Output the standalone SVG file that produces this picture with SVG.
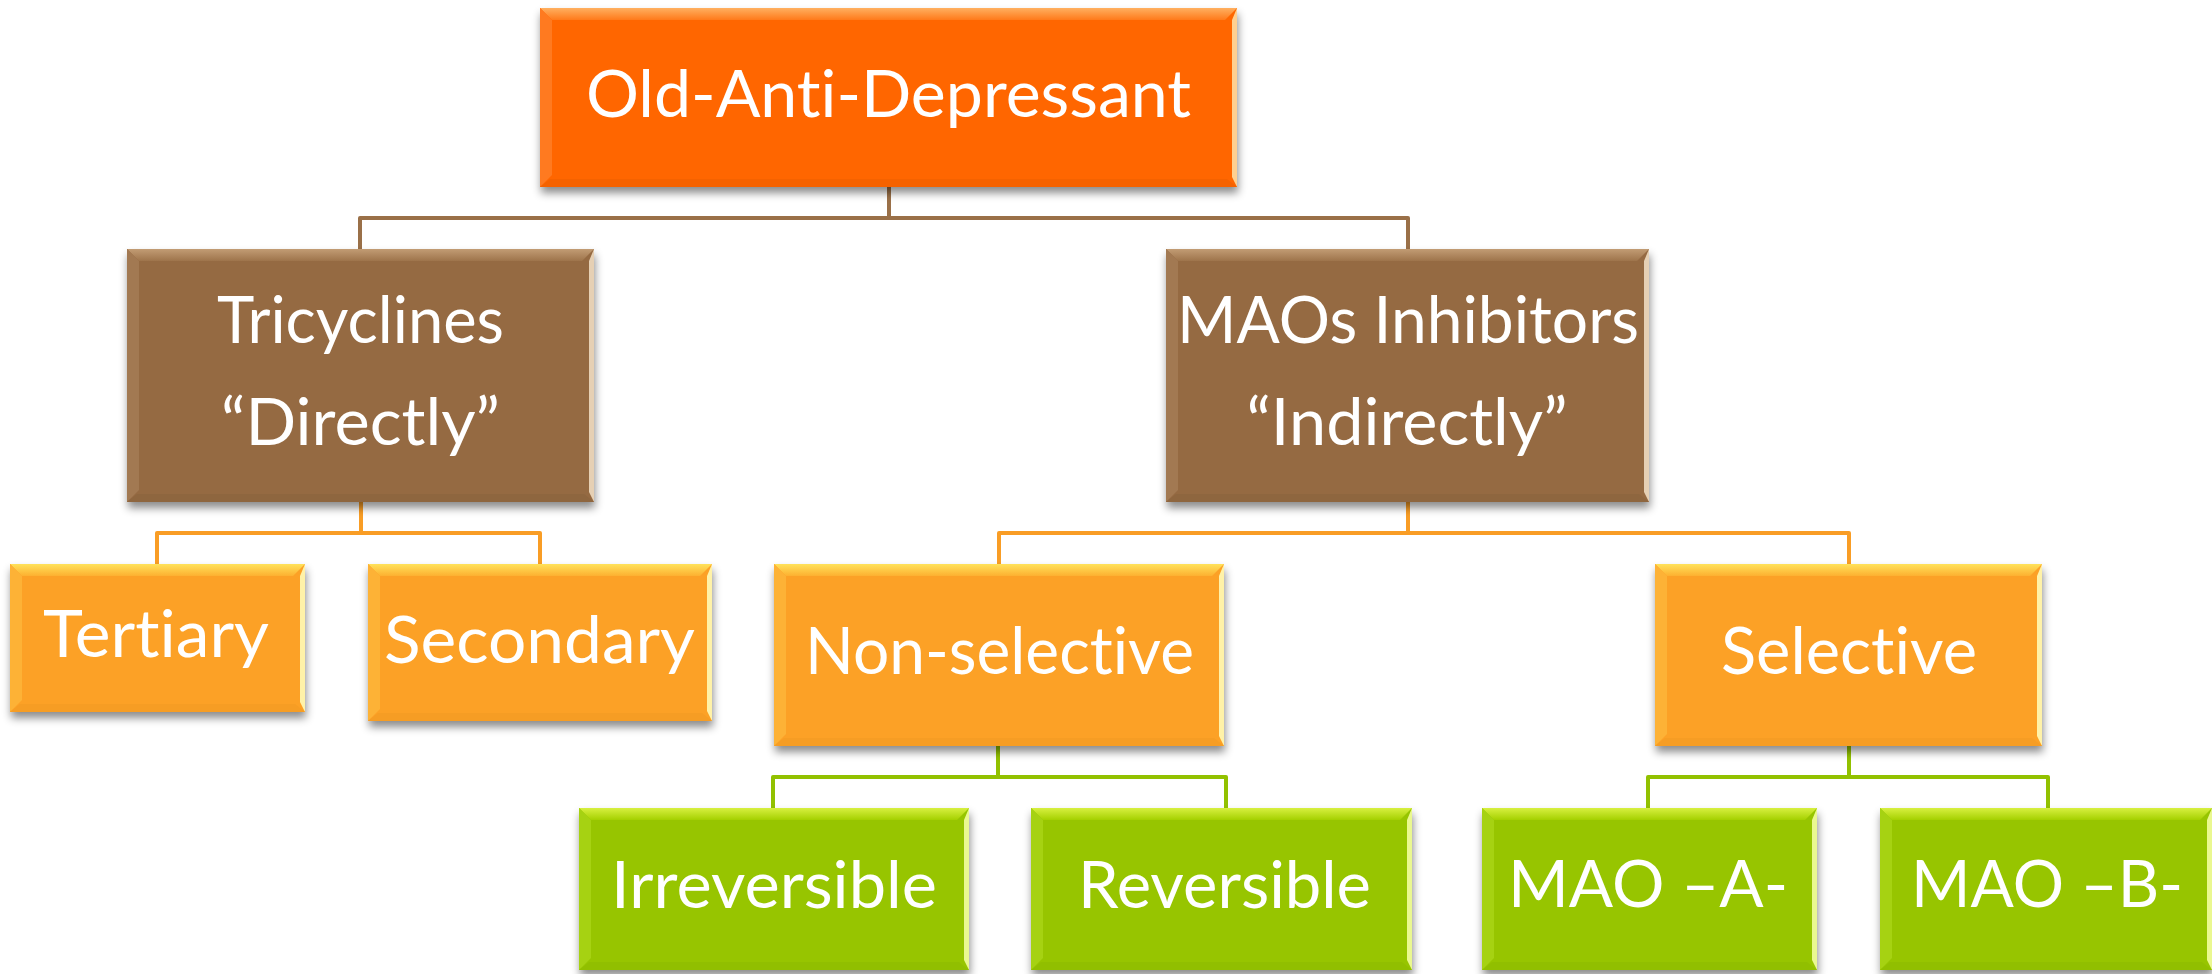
<svg xmlns="http://www.w3.org/2000/svg" width="2212" height="974" viewBox="0 0 2212 974">
<defs>
<filter id="sh" x="-5%" y="-10%" width="112%" height="130%">
<feDropShadow dx="1" dy="6" stdDeviation="4" flood-color="#000" flood-opacity="0.45"/>
</filter>
<linearGradient id="gRootTop" x1="0" y1="0" x2="0" y2="1"><stop offset="0" stop-color="#FFB060"/><stop offset="1" stop-color="#FF7A1A"/></linearGradient>
<linearGradient id="gBrTop" x1="0" y1="0" x2="0" y2="1"><stop offset="0" stop-color="#C29C74"/><stop offset="1" stop-color="#9E744B"/></linearGradient>
<linearGradient id="gOrTop" x1="0" y1="0" x2="0" y2="1"><stop offset="0" stop-color="#FFE25A"/><stop offset="1" stop-color="#FDB030"/></linearGradient>
<linearGradient id="gGrTop" x1="0" y1="0" x2="0" y2="1"><stop offset="0" stop-color="#D8F040"/><stop offset="1" stop-color="#A4D000"/></linearGradient>
</defs>
<style>
.main{filter:url(#sh);}
.root .main{fill:#FF6600}.root .top{fill:url(#gRootTop)}.root .left{fill:#FF7A20}.root .right{fill:#FFD090}.root .bot{fill:#F56200}
.brown .main{fill:#956B43}.brown .top{fill:url(#gBrTop)}.brown .left{fill:#A27952}.brown .right{fill:#E6D0B4}.brown .bot{fill:#8E663F}
.orange .main{fill:#FCA126}.orange .top{fill:url(#gOrTop)}.orange .left{fill:#FDB236}.orange .right{fill:#FFF2A8}.orange .bot{fill:#F69D24}
.green .main{fill:#97C500}.green .top{fill:url(#gGrTop)}.green .left{fill:#A6D212}.green .right{fill:#EAF890}.green .bot{fill:#91BF00}
text{font-family:Lato,"Noto Sans","Liberation Sans",sans-serif;fill:#fff;font-size:65px;text-anchor:middle;font-variant-ligatures:none}
.conn{fill:none;stroke-width:4;stroke-linejoin:round}
.cb{stroke:#9A7048}.co{stroke:#F99D25}.cg{stroke:#92C100}
</style>
<g id="connectors">
<path class="conn cb" d="M889,187 V218 M360,249 V218 H1408 V249"/>
<path class="conn co" d="M361,502 V533 M157,564 V533 H540 V564"/>
<path class="conn co" d="M1408,502 V533 M999,564 V533 H1849 V564"/>
<path class="conn cg" d="M998,746 V777 M773,808 V777 H1226 V808"/>
<path class="conn cg" d="M1849,746 V777 M1648,808 V777 H2048 V808"/>
</g>
<g id="old-anti-depressant" class="root" transform="translate(540,8)">
<rect class="main" width="697" height="179"/>
<polygon class="top" points="0,0 697,0 685,12 12,12"/>
<polygon class="left" points="0,0 12,12 12,167 0,179"/>
<polygon class="right" points="697,0 697,179 692,169 692,12"/>
<polygon class="bot" points="0,179 697,179 687,171 10,171"/>
<text x="348.5" y="109" font-size="68" textLength="605" lengthAdjust="spacingAndGlyphs">Old-Anti-Depressant</text>
</g>
<g id="tricyclines" class="brown" transform="translate(127,249)">
<rect class="main" width="467" height="253"/>
<polygon class="top" points="0,0 467,0 455,12 12,12"/>
<polygon class="left" points="0,0 12,12 12,241 0,253"/>
<polygon class="right" points="467,0 467,253 462,243 462,12"/>
<polygon class="bot" points="0,253 467,253 457,245 10,245"/>
<text x="233.5" y="94" textLength="287" lengthAdjust="spacingAndGlyphs">Tricyclines</text>
<text x="233.5" y="196" textLength="279" lengthAdjust="spacingAndGlyphs">“Directly”</text>
</g>
<g id="maos-inhibitors" class="brown" transform="translate(1166,249)">
<rect class="main" width="483" height="253"/>
<polygon class="top" points="0,0 483,0 471,12 12,12"/>
<polygon class="left" points="0,0 12,12 12,241 0,253"/>
<polygon class="right" points="483,0 483,253 478,243 478,12"/>
<polygon class="bot" points="0,253 483,253 473,245 10,245"/>
<text x="242" y="94" textLength="462" lengthAdjust="spacingAndGlyphs">MAOs Inhibitors</text>
<text x="241" y="196" textLength="321" lengthAdjust="spacingAndGlyphs">“Indirectly”</text>
</g>
<g id="tertiary" class="orange" transform="translate(10,564)">
<rect class="main" width="295" height="148"/>
<polygon class="top" points="0,0 295,0 283,12 12,12"/>
<polygon class="left" points="0,0 12,12 12,136 0,148"/>
<polygon class="right" points="295,0 295,148 290,138 290,12"/>
<polygon class="bot" points="0,148 295,148 285,140 10,140"/>
<text x="146" y="93" textLength="226" lengthAdjust="spacingAndGlyphs">Tertiary</text>
</g>
<g id="secondary" class="orange" transform="translate(368,564)">
<rect class="main" width="344" height="157"/>
<polygon class="top" points="0,0 344,0 332,12 12,12"/>
<polygon class="left" points="0,0 12,12 12,145 0,157"/>
<polygon class="right" points="344,0 344,157 339,147 339,12"/>
<polygon class="bot" points="0,157 344,157 334,149 10,149"/>
<text x="171.5" y="99" textLength="311" lengthAdjust="spacingAndGlyphs">Secondary</text>
</g>
<g id="non-selective" class="orange" transform="translate(774,564)">
<rect class="main" width="450" height="182"/>
<polygon class="top" points="0,0 450,0 438,12 12,12"/>
<polygon class="left" points="0,0 12,12 12,170 0,182"/>
<polygon class="right" points="450,0 450,182 445,172 445,12"/>
<polygon class="bot" points="0,182 450,182 440,174 10,174"/>
<text x="225.5" y="110" textLength="389" lengthAdjust="spacingAndGlyphs">Non-selective</text>
</g>
<g id="selective" class="orange" transform="translate(1655,564)">
<rect class="main" width="387" height="182"/>
<polygon class="top" points="0,0 387,0 375,12 12,12"/>
<polygon class="left" points="0,0 12,12 12,170 0,182"/>
<polygon class="right" points="387,0 387,182 382,172 382,12"/>
<polygon class="bot" points="0,182 387,182 377,174 10,174"/>
<text x="194" y="110" textLength="256" lengthAdjust="spacingAndGlyphs">Selective</text>
</g>
<g id="irreversible" class="green" transform="translate(579,808)">
<rect class="main" width="390" height="162"/>
<polygon class="top" points="0,0 390,0 378,12 12,12"/>
<polygon class="left" points="0,0 12,12 12,150 0,162"/>
<polygon class="right" points="390,0 390,162 385,152 385,12"/>
<polygon class="bot" points="0,162 390,162 380,154 10,154"/>
<text x="195" y="100" textLength="326" lengthAdjust="spacingAndGlyphs">Irreversible</text>
</g>
<g id="reversible" class="green" transform="translate(1031,808)">
<rect class="main" width="381" height="162"/>
<polygon class="top" points="0,0 381,0 369,12 12,12"/>
<polygon class="left" points="0,0 12,12 12,150 0,162"/>
<polygon class="right" points="381,0 381,162 376,152 376,12"/>
<polygon class="bot" points="0,162 381,162 371,154 10,154"/>
<text x="193.5" y="100" textLength="293" lengthAdjust="spacingAndGlyphs">Reversible</text>
</g>
<g id="mao-a" class="green" transform="translate(1482,808)">
<rect class="main" width="335" height="162"/>
<polygon class="top" points="0,0 335,0 323,12 12,12"/>
<polygon class="left" points="0,0 12,12 12,150 0,162"/>
<polygon class="right" points="335,0 335,162 330,152 330,12"/>
<polygon class="bot" points="0,162 335,162 325,154 10,154"/>
<text x="166" y="99" textLength="280" lengthAdjust="spacingAndGlyphs">MAO –A-</text>
</g>
<g id="mao-b" class="green" transform="translate(1880,808)">
<rect class="main" width="332" height="162"/>
<polygon class="top" points="0,0 332,0 320,12 12,12"/>
<polygon class="left" points="0,0 12,12 12,150 0,162"/>
<polygon class="right" points="332,0 332,162 327,152 327,12"/>
<polygon class="bot" points="0,162 332,162 322,154 10,154"/>
<text x="167" y="99" textLength="272" lengthAdjust="spacingAndGlyphs">MAO –B-</text>
</g>
</svg>
